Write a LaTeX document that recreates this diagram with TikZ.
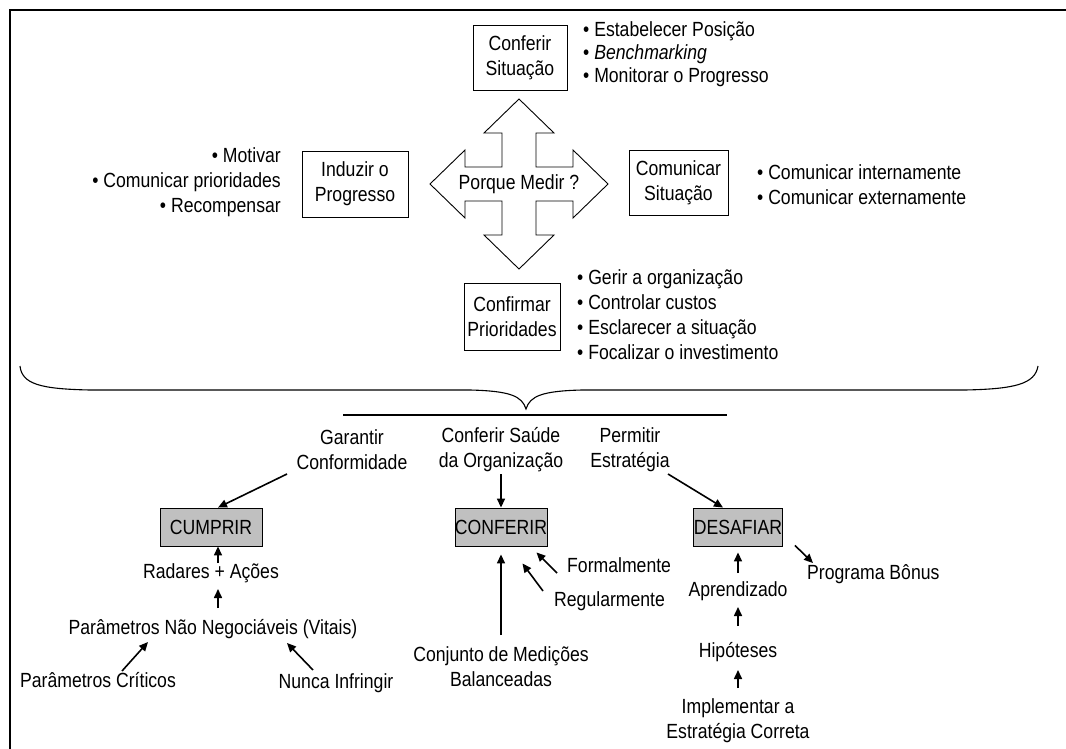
\documentclass[tikz,border=0pt]{standalone}
\usepackage{fontspec}
\setmainfont{Liberation Sans}[FakeStretch=0.86]
\usetikzlibrary{arrows.meta,calc}
\definecolor{boxgray}{RGB}{192,192,192}

\begin{document}
\begin{tikzpicture}[x=1pt,y=-1pt,
  every node/.style={font=\fontsize{20.5}{25}\selectfont, inner sep=0pt},
  txt/.style={align=center},
  framebox/.style={draw, line width=0.9pt, fill=white, align=center},
  graybox/.style={draw, line width=0.9pt, fill=boxgray, minimum height=38pt},
  arr/.style={line width=1.6pt, -{Triangle[length=9pt,width=8pt]}},
  listl/.style={align=left, anchor=west},
  listr/.style={align=right, anchor=east}
]
\useasboundingbox (0,0) rectangle (1066,749);

% outer frame (top and left sides)
\draw[line width=2pt] (10,749) -- (10,10) -- (1066,10);

% central four-way arrow
\begin{scope}[shift={(519,184)}]
  \draw[line width=0.9pt, fill=white]
    (0,-85) -- (35,-51) -- (17,-51) -- (17,-17) -- (54,-17) -- (54,-34) --
    (89,0) -- (54,34) -- (54,17) -- (17,17) -- (17,51) -- (35,51) --
    (0,85) -- (-35,51) -- (-17,51) -- (-17,17) -- (-54,17) -- (-54,34) --
    (-89,0) -- (-54,-34) -- (-54,-17) -- (-17,-17) -- (-17,-51) -- (-35,-51) -- cycle;
\end{scope}
\node (porque) at (519,184) {Porque Medir ?};

% the four reasons
\node[framebox, minimum width=94pt, minimum height=65pt] (situacao) at (520,57.5) {Conferir\\Situação};
\node[framebox, minimum width=106pt, minimum height=66pt] (induzir) at (355,184) {Induzir o\\Progresso};
\node[framebox, minimum width=99pt, minimum height=65pt] (comunicar) at (678.5,182.5) {Comunicar\\Situação};
\node[framebox, minimum width=96pt, minimum height=67pt] (confirmar) at (512,316.5) {Confirmar\\Prioridades};

% bullet lists
\node[listl, font=\fontsize{20.5}{23}\selectfont] (listtop) at (583,54)
  {• Estabelecer Posição\\• \textit{Benchmarking}\\• Monitorar o Progresso};
\node[listr] (listleft) at (281,182)
  {• Motivar\\• Comunicar prioridades\\• Recompensar};
\node[listl] (listright) at (757,184.5)
  {• Comunicar internamente\\• Comunicar externamente};
\node[listl] (listbottom) at (577,314.5)
  {• Gerir a organização\\• Controlar custos\\• Esclarecer a situação\\• Focalizar o investimento};

% brace and rule
\draw[line width=1.1pt]
  (20,366) .. controls (22,384) and (40,389) .. (90,390) -- (470,390)
  .. controls (510,391) and (522,396) .. (526,409)
  .. controls (530,396) and (542,391) .. (582,390) -- (965,390)
  .. controls (1015,389) and (1035,384) .. (1038,366);
\draw[line width=1.3pt] (343,415) -- (727,415);

% lower part: three goals
\node[txt] (garantir) at (352,450) {Garantir\\Conformidade};
\node[txt] (saude) at (501,450) {Conferir Saúde\\da Organização};
\node[txt] (permitir) at (630,450) {Permitir\\Estratégia};

\node[graybox, minimum width=102pt] (cumprir) at (211,527) {CUMPRIR};
\node[graybox, minimum width=92pt] (conferir) at (501,527) {CONFERIR};
\node[graybox, minimum width=89pt] (desafiar) at (738,527) {DESAFIAR};

\draw[arr] ($(garantir)+(-65,24)$) -- ($(cumprir.north)+(7,0)$);
\draw[arr] ($(saude)+(0,24)$) -- (conferir.north);
\draw[arr] ($(permitir)+(38,24)$) -- ($(desafiar.north)+(-15,0)$);

% CUMPRIR branch
\node (radares) at (211,573) {Radares + Ações};
\node (vitais) at (213,629) {Parâmetros Não Negociáveis (Vitais)};
\node (criticos) at (98,680) {Parâmetros Críticos};
\node (nunca) at (336,683) {Nunca Infringir};
\draw[arr] ($(radares)+(7,-10)$) -- ($(cumprir.south)+(7,0)$);
\draw[arr] ($(vitais)+(5,-21)$) -- ($(radares)+(7,16)$);
\draw[arr] ($(criticos)+(24,-9)$) -- ($(vitais)+(-65,13)$);
\draw[arr] ($(nunca)+(-23,-13)$) -- ($(vitais)+(74,14)$);

% CONFERIR branch
\node[txt] (conjunto) at (501,666.5) {Conjunto de Medições\\Balanceadas};
\node[anchor=west] (formal) at (567,565) {Formalmente};
\node[anchor=west] (regular) at (554,601) {Regularmente};
\draw[arr] ($(conjunto)+(0,-31.5)$) -- ($(conferir.south)+(0,8)$);
\draw[arr] ($(formal.west)+(-10,8)$) -- ($(conferir.south east)+(-11,6)$);
\draw[arr] ($(regular.west)+(-11,-10)$) -- ($(conferir.south east)+(-25,17)$);

% DESAFIAR branch
\node (aprend) at (738,591) {Aprendizado};
\node (hip) at (738,652) {Hipóteses};
\node[txt] (impl) at (738,720.5) {Implementar a\\Estratégia Correta};
\node[anchor=west] (bonus) at (807,574) {Programa Bônus};
\draw[arr] ($(aprend)+(0,-18)$) -- ($(desafiar.south)+(0,6)$);
\draw[arr] ($(hip)+(0,-26)$) -- ($(aprend)+(0,16)$);
\draw[arr] ($(impl)+(0,-32.5)$) -- ($(hip)+(0,18)$);
\draw[arr] ($(desafiar.south east)+(12,-1)$) -- ($(bonus.west)+(6,-11)$);
\end{tikzpicture}
\end{document}
